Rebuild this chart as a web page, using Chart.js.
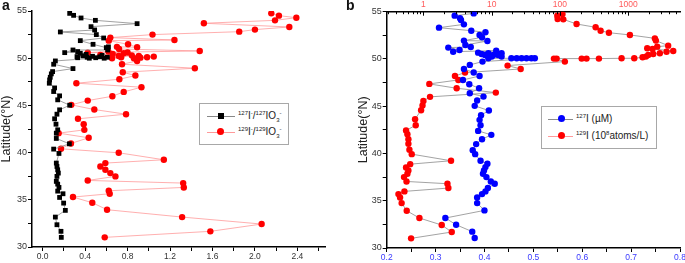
<!DOCTYPE html>
<html>
<head>
<meta charset="utf-8">
<script src="https://cdn.jsdelivr.net/npm/chart.js@4.4.1/dist/chart.umd.min.js"></script>
<style>
  html, body { margin: 0; padding: 0; background: #fff; }
  #wrap { position: relative; width: 685px; height: 263px; overflow: hidden;
          font-family: "Liberation Sans", Arial, sans-serif; color: #222; }
  canvas { position: absolute; top: 0; }
  #ca { left: 0; }
  #cb { left: 345px; }
  .tag { position: absolute; top: -3px; font-weight: bold; font-size: 14px; color: #111; }
  .legend { position: absolute; border: 1px solid #a8a8a8; background: #fff; font-size: 10px; }
  .row { position: absolute; left: 0; right: 0; height: 14px; }
  .ln { position: absolute; top: 7px; height: 1px; }
  .mk { position: absolute; }
  .tx { position: absolute; top: 0; line-height: 14px; white-space: nowrap; }
  sup, sub { font-size: 6px; line-height: 0; }
</style>
</head>
<body>
<div id="wrap">
  <canvas id="ca" width="340" height="263"></canvas>
  <canvas id="cb" width="345" height="263"></canvas>
  <div class="tag" style="left:2px">a</div>
  <div class="tag" style="left:346px">b</div>

  <div class="legend" style="left:199px;top:103px;width:88px;height:40px">
    <div class="row" style="top:5px">
      <div class="ln" style="left:7px;width:28px;background:#888"></div>
      <div class="mk" style="left:18px;top:4px;width:6px;height:6px;background:#000"></div>
      <div class="tx" style="left:38px"><sup>127</sup>I<sup>-</sup>/<sup>127</sup>IO<sub>3</sub><sup>-</sup></div>
    </div>
    <div class="row" style="top:21px">
      <div class="ln" style="left:7px;width:28px;background:#ff9a9a"></div>
      <div class="mk" style="left:17px;top:3px;width:7px;height:7px;border-radius:50%;background:#ff0000"></div>
      <div class="tx" style="left:38px"><sup>129</sup>I<sup>-</sup>/<sup>129</sup>IO<sub>3</sub><sup>-</sup></div>
    </div>
  </div>

  <div class="legend" style="left:541px;top:106px;width:114px;height:41px">
    <div class="row" style="top:5px">
      <div class="ln" style="left:6px;width:25px;background:#8c8c8c"></div>
      <div class="mk" style="left:16px;top:3px;width:7px;height:7px;border-radius:50%;background:#0000ff"></div>
      <div class="tx" style="left:34px"><sup>127</sup>I (µM)</div>
    </div>
    <div class="row" style="top:22px">
      <div class="ln" style="left:6px;width:25px;background:#ff9a9a"></div>
      <div class="mk" style="left:16px;top:3px;width:7px;height:7px;border-radius:50%;background:#ff0000"></div>
      <div class="tx" style="left:34px"><sup>129</sup>I (10<sup>8</sup>atoms/L)</div>
    </div>
  </div>
</div>

<script>
// ---- panel a: iodide / iodate ratios ----
const latA127 = [54.75, 54.54, 54.26, 54.01, 53.66, 53.34, 52.99, 52.78, 52.50, 52.14, 51.86, 51.47, 51.12, 51.20,
  50.87, 50.87, 50.59, 50.70, 50.52, 50.40, 50.17, 50.05, 50.25, 50.10, 50.00, 50.20, 50.05, 50.15, 50.00, 50.30, 50.10,
  49.71, 49.36, 48.90, 48.58, 48.34, 47.98, 47.70, 47.35, 46.85, 46.47, 46.01, 45.59, 45.02, 44.53, 44.07, 43.58,
  43.01, 42.41, 42.06, 41.50, 40.93, 40.37, 39.91, 38.89, 38.53, 38.18, 37.83, 37.48, 36.95, 36.66, 36.31, 35.92,
  35.64, 35.25, 34.65, 33.88, 33.17, 32.36, 31.66, 31.02];
const ratio127 = [0.255, 0.292, 0.362, 0.497, 0.89, 0.456, 0.49, 0.167, 0.506, 0.575, 0.355, 0.475, 0.60, 0.62,
  0.613, 0.286, 0.208, 0.33, 0.355, 0.41, 0.324, 0.33, 0.38, 0.42, 0.44, 0.47, 0.50, 0.54, 0.58, 0.56, 0.61,
  0.12, 0.104, 0.286, 0.094, 0.082, 0.072, 0.066, 0.063, 0.113, 0.104, 0.16, 0.142, 0.255, 0.16, 0.135, 0.113,
  0.126, 0.142, 0.129, 0.129, 0.252, 0.104, 0.154, 0.129, 0.135, 0.142, 0.148, 0.135, 0.129, 0.142, 0.154, 0.142,
  0.192, 0.16, 0.198, 0.214, 0.12, 0.135, 0.173, 0.176];

const latA129 = [54.75, 54.51, 54.29, 54.01, 53.70, 53.31, 53.03, 52.81, 52.50, 52.18, 51.93, 51.86, 51.47, 51.16,
  51.20, 50.97, 50.77, 50.59, 50.70, 50.52, 50.60, 50.35, 50.45, 50.24, 50.00, 50.10, 50.30, 50.24, 50.06, 50.10,
  50.17, 50.00, 49.71, 49.36, 48.94, 48.51, 48.16, 47.77, 47.35, 46.93, 46.43, 45.97, 45.51, 45.06, 44.56, 44.07,
  43.58, 43.01, 42.41, 42.06, 41.57, 40.97, 40.40, 39.98, 39.24, 38.89, 38.53, 38.18, 37.83, 37.48, 37.05, 36.77,
  36.31, 35.96, 35.64, 35.29, 34.69, 33.95, 33.17, 32.43, 31.66, 31.02];
const ratio129 = [2.154, 2.226, 2.39, 2.189, 1.519, 2.324, 2.0, 1.852, 1.035, 0.638, 1.242, 0.623, 0.805, 0.89,
  0.70, 0.72, 1.48, 0.425, 0.62, 0.764, 0.80, 0.544, 0.66, 0.717, 0.654, 0.74, 0.84, 0.906, 0.921, 0.984,
  1.047, 0.86, 0.89, 0.748, 1.434, 0.755, 0.874, 0.723, 0.318, 0.931, 0.764, 0.657, 0.425, 0.27, 0.487, 0.786,
  0.333, 0.387, 0.393, 0.151, 0.434, 0.267, 0.173, 0.717, 1.142, 0.591, 0.544, 0.591, 0.638, 0.686, 0.425, 1.324,
  1.33, 0.623, 0.632, 0.286, 0.468, 0.607, 1.314, 2.063, 1.58, 0.585];

// ---- panel b: 127I (uM, bottom axis) and 129I (1e8 atoms/L, top log axis) ----
const latB127 = [54.82, 54.58, 54.30, 54.12, 53.66, 53.31, 52.99, 52.82, 52.54, 52.29, 51.94, 51.90, 51.48, 51.27,
  51.20, 50.95, 50.77, 50.88, 50.67, 50.53, 50.60, 50.42, 50.42, 50.60, 50.42, 50.25, 50.25, 50.07, 50.07, 50.07,
  50.07, 50.07, 50.07, 50.07, 49.72, 49.37, 48.94, 48.56, 48.20, 47.78, 47.32, 46.90, 46.37, 46.02, 45.60, 45.04,
  44.54, 44.05, 43.56, 42.99, 42.39, 41.97, 41.51, 40.99, 40.35, 39.93, 39.23, 38.91, 38.56, 38.20, 37.85, 37.50,
  37.04, 36.80, 36.34, 35.99, 35.70, 35.35, 34.75, 33.98, 33.17, 32.46, 31.73, 31.06];
const iodine127 = [0.378, 0.339, 0.35, 0.352, 0.358, 0.307, 0.373, 0.402, 0.39, 0.395, 0.358, 0.406, 0.361, 0.372,
  0.326, 0.349, 0.336, 0.424, 0.387, 0.394, 0.408, 0.401, 0.418, 0.435, 0.428, 0.435, 0.415, 0.408, 0.455, 0.466,
  0.476, 0.486, 0.496, 0.503, 0.396, 0.37, 0.358, 0.378, 0.39, 0.356, 0.369, 0.389, 0.37, 0.398, 0.385, 0.38,
  0.409, 0.393, 0.39, 0.392, 0.387, 0.414, 0.395, 0.383, 0.376, 0.381, 0.392, 0.406, 0.402, 0.399, 0.397, 0.404,
  0.413, 0.421, 0.407, 0.402, 0.395, 0.385, 0.385, 0.40, 0.32, 0.342, 0.375, 0.38];

const latB129 = [54.75, 54.58, 54.23, 54.19, 53.70, 53.35, 52.99, 52.78, 52.54, 52.18, 51.94, 51.41, 51.30, 51.13,
  51.06, 50.85, 50.77, 50.60, 50.53, 50.42, 50.25, 50.18, 50.07, 50.07, 50.04, 50.04, 50.04, 50.04, 50.04, 49.72,
  49.30, 48.94, 48.56, 48.20, 47.78, 47.36, 46.90, 46.44, 45.99, 45.56, 45.07, 44.58, 43.63, 42.99, 42.43, 42.04,
  41.51, 41.02, 40.39, 39.93, 39.23, 38.87, 38.52, 38.20, 37.85, 37.50, 37.04, 36.80, 36.34, 35.99, 35.70, 35.35,
  34.75, 33.94, 33.17, 32.43, 31.69, 31.02];
const iodine129 = [109, 91.4, 92.4, 112, 175, 333, 394, 521, 1058, 2455, 2540, 3846, 2657, 1897,
  2268, 4560, 3640, 2904, 2322, 1963, 1815, 1622, 1225, 799, 372, 245, 208, 89.4, 81.7, 118,
  17.1, 26.6, 4.07, 2.9, 3.25, 1.22, 3.07, 11.5, 1.25, 1.0, 0.97, 0.925, 0.755, 0.772, 0.557, 0.583,
  0.603, 0.603, 0.624, 0.675, 2.54, 0.64, 0.557, 0.603, 0.583, 0.52, 0.566, 2.25, 2.32, 0.527, 0.431, 0.455,
  0.48, 0.57, 0.874, 1.855, 2.6, 0.66];

// axis ticks (all tick marks) and the ones that get a label
const latTicks = [30, 32.5, 35, 37.5, 40, 42.5, 45, 47.5, 50, 52.5, 55];
const latLabels = [30, 35, 40, 45, 50, 55];
const ratioTicks = [0, 0.2, 0.4, 0.6, 0.8, 1.0, 1.2, 1.4, 1.6, 1.8, 2.0, 2.2, 2.4, 2.6];
const ratioLabels = [0, 0.4, 0.8, 1.2, 1.6, 2.0, 2.4];
const umTicks = [0.2, 0.25, 0.3, 0.35, 0.4, 0.45, 0.5, 0.55, 0.6, 0.65, 0.7, 0.75, 0.8];
const umLabels = [0.2, 0.3, 0.4, 0.5, 0.6, 0.7, 0.8];
const logTicks = [0.3, 0.4, 0.5, 0.6, 0.7, 0.8, 0.9, 1, 2, 3, 4, 5, 6, 7, 8, 9, 10, 20, 30, 40, 50, 60, 70, 80, 90,
  100, 200, 300, 400, 500, 600, 700, 800, 900, 1000, 2000, 3000, 4000, 5000];
const logLabels = [1, 10, 100, 1000];

const pts = (xs, ys) => xs.map((x, i) => ({ x: x, y: ys[i] }));
const setTicks = list => s => { s.ticks = list.map(v => ({ value: v })); };
const tickFont = { family: '"Liberation Sans", Arial, sans-serif', size: 8.5 };
const axisBorder = { color: '#000', width: 1.5 };
const tickGrid = { drawOnChartArea: false, tickLength: 4, tickColor: '#000', tickWidth: 1 };

function latAxis(width) {
  return {
    type: 'linear', min: 30, max: 55,
    afterFit: s => { s.width = width; },
    afterBuildTicks: setTicks(latTicks),
    ticks: { autoSkip: false, padding: 1, color: '#333', font: { ...tickFont, size: 9 },
      callback: v => latLabels.includes(v) ? String(v) : '' },
    title: { display: true, text: 'Latitude(°N)', color: '#222', padding: 0,
      font: { family: '"Liberation Sans", Arial, sans-serif', size: 12.5, lineHeight: 1 } },
    grid: tickGrid, border: axisBorder
  };
}

const baseOpts = {
  responsive: false, animation: false, devicePixelRatio: 1,
  plugins: { legend: { display: false }, tooltip: { enabled: false } }
};

// panel a
new Chart(document.getElementById('ca'), {
  type: 'scatter',
  data: {
    datasets: [
      { data: pts(ratio127, latA127), showLine: true, borderColor: '#8a8a8a', borderWidth: 0.8,
        pointStyle: 'rect', pointRadius: 3.4, pointBackgroundColor: '#000', pointBorderWidth: 0 },
      { data: pts(ratio129, latA129), showLine: true, borderColor: '#ff9a9a', borderWidth: 0.8,
        pointRadius: 3.2, pointBackgroundColor: '#ff0000', pointBorderWidth: 0 }
    ]
  },
  options: {
    ...baseOpts,
    layout: { padding: { top: 11, right: 15, left: 0, bottom: 0 } },
    scales: {
      x: {
        type: 'linear', position: 'bottom', min: -0.1, max: 2.66,
        afterFit: s => { s.height = 16; },
        afterBuildTicks: setTicks(ratioTicks),
        ticks: { autoSkip: false, maxRotation: 0, padding: 1, color: '#333', font: tickFont,
          callback: v => ratioLabels.includes(v) ? v.toFixed(1) : '' },
        grid: tickGrid, border: axisBorder
      },
      y: latAxis(32)
    }
  }
});

// top log axis of panel b has its tick marks pointing into the plot
const innerTicks = {
  id: 'innerTicks',
  afterDraw(chart) {
    const s = chart.scales.x2;
    const ctx = chart.ctx;
    ctx.save();
    ctx.strokeStyle = '#000';
    ctx.lineWidth = 1;
    s.ticks.forEach(t => {
      const px = Math.round(s.getPixelForValue(t.value)) + 0.5;
      const len = logLabels.includes(t.value) ? 4 : 2.5;
      ctx.beginPath();
      ctx.moveTo(px, s.bottom);
      ctx.lineTo(px, s.bottom + len);
      ctx.stroke();
    });
    ctx.restore();
  }
};

// panel b
new Chart(document.getElementById('cb'), {
  type: 'scatter',
  data: {
    datasets: [
      { data: pts(iodine127, latB127), xAxisID: 'x', yAxisID: 'y', showLine: true,
        borderColor: '#8c8c8c', borderWidth: 0.8,
        pointRadius: 3.2, pointBackgroundColor: '#0000ff', pointBorderWidth: 0 },
      { data: pts(iodine129, latB129), xAxisID: 'x2', yAxisID: 'y', showLine: true,
        borderColor: '#8c8c8c', borderWidth: 0.8,
        pointRadius: 3.2, pointBackgroundColor: '#ff0000', pointBorderWidth: 0 }
    ]
  },
  options: {
    ...baseOpts,
    layout: { padding: { top: 0, right: 10, left: 12, bottom: 0 } },
    scales: {
      x: {
        type: 'linear', position: 'bottom', min: 0.2, max: 0.8,
        afterFit: s => { s.height = 15; },
        afterBuildTicks: setTicks(umTicks),
        ticks: { autoSkip: false, maxRotation: 0, padding: 1, color: '#3a3aff', font: tickFont,
          callback: v => umLabels.includes(v) ? v.toFixed(1) : '' },
        grid: tickGrid, border: axisBorder
      },
      x2: {
        type: 'logarithmic', position: 'top', min: 0.29, max: 5730,
        afterFit: s => { s.height = 11.7; },
        afterBuildTicks: setTicks(logTicks),
        ticks: { autoSkip: false, maxRotation: 0, padding: 2, color: '#ff5a5a', font: tickFont,
          callback: v => logLabels.includes(v) ? String(v) : '' },
        grid: { drawOnChartArea: false, drawTicks: false },
        border: axisBorder
      },
      y: latAxis(29.7)
    }
  },
  plugins: [innerTicks]
});
</script>
</body>
</html>
